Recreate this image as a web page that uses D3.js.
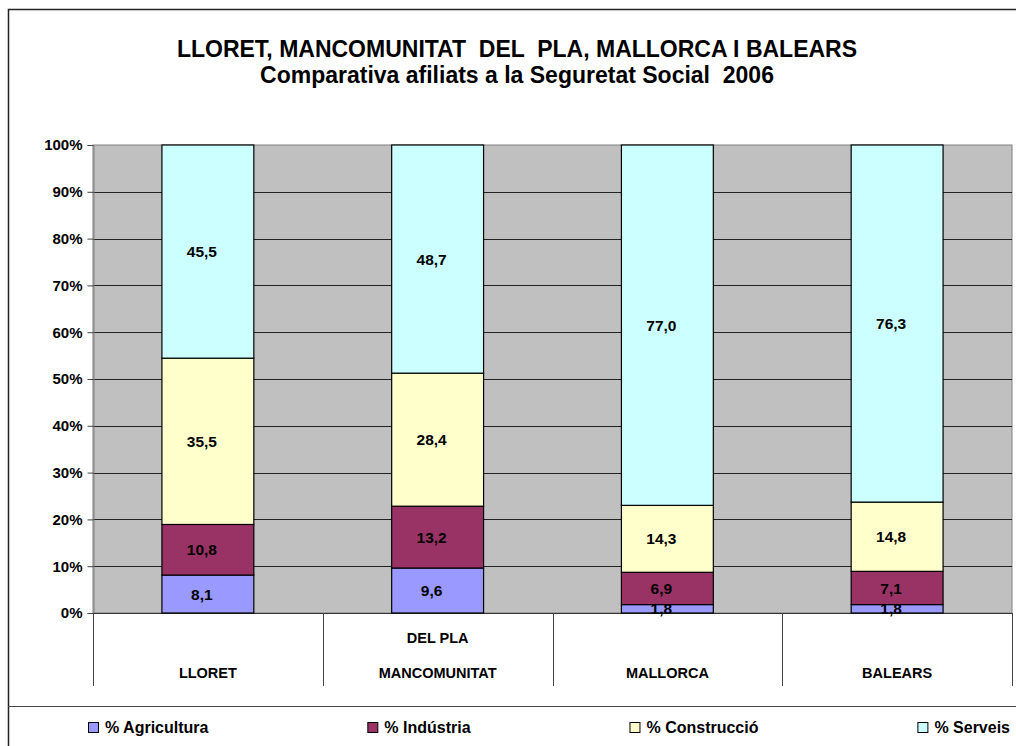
<!DOCTYPE html>
<html>
<head>
<meta charset="utf-8">
<script src="https://cdn.jsdelivr.net/npm/d3@7"></script>
<style>
  body { margin: 0; background: #fff; }
  svg { display: block; font-family: "Liberation Sans", Arial, sans-serif; font-weight: bold; }
</style>
</head>
<body>
<script>
// Data
var categories = ["LLORET", "MANCOMUNITAT DEL PLA", "MALLORCA", "BALEARS"];
// Excel wrapped the second label and printed its lines bottom-up
var categoryLines = [["LLORET"], ["DEL PLA", "MANCOMUNITAT"], ["MALLORCA"], ["BALEARS"]];
var seriesNames = ["% Agricultura", "% Indústria", "% Construcció", "% Serveis"];
var agricultura = [8.1, 9.6, 1.8, 1.8];
var industria = [10.8, 13.2, 6.9, 7.1];
var construccio = [35.5, 28.4, 14.3, 14.8];
var serveis = [45.5, 48.7, 77.0, 76.3];
var yTicks = [0, 10, 20, 30, 40, 50, 60, 70, 80, 90, 100];
var colors = ["#9999ff", "#993366", "#ffffcc", "#ccffff"];

var width = 1016,
    height = 746;

var rows = categories.map(function(c, i) {
  return {
    cat: c,
    "% Agricultura": agricultura[i],
    "% Indústria": industria[i],
    "% Construcció": construccio[i],
    "% Serveis": serveis[i]
  };
});

var svg = d3.select("body").append("svg")
    .attr("width", width)
    .attr("height", height);

// outer chart frame (runs off the right and bottom edges)
svg.append("rect")
    .attr("x", 8.5).attr("y", 9.5)
    .attr("width", 1030).attr("height", 760)
    .attr("fill", "#fff")
    .attr("stroke", "#222")
    .attr("stroke-width", 1.5);

// title
var title = svg.append("text")
    .attr("text-anchor", "middle")
    .style("font-size", "23px")
    .style("white-space", "pre");
title.append("tspan").attr("x", 517).attr("y", 57)
    .text("LLORET, MANCOMUNITAT  DEL  PLA, MALLORCA I BALEARS");
title.append("tspan").attr("x", 517).attr("y", 83)
    .text("Comparativa afiliats a la Seguretat Social  2006");

var plotLeft = 93, plotRight = 1012, plotTop = 145, plotBottom = 613;

var x = d3.scaleBand()
    .domain(categories)
    .range([plotLeft, plotRight])
    .paddingInner(0.6)
    .paddingOuter(0.3);

var y = d3.scaleLinear()
    .domain([0, 1])
    .range([plotBottom, plotTop]);

var stack = d3.stack()
    .keys(seriesNames)
    .offset(d3.stackOffsetExpand);

var stacked = stack(rows);

// plot background
svg.append("rect")
    .attr("x", plotLeft).attr("y", plotTop)
    .attr("width", plotRight - plotLeft)
    .attr("height", plotBottom - plotTop)
    .attr("fill", "#c0c0c0")
    .attr("stroke", "#808080")
    .attr("stroke-width", 1);

// gridlines
svg.append("g")
  .selectAll("line")
  .data(yTicks.filter(function(t) { return t > 0 && t < 100; }))
  .enter().append("line")
    .attr("x1", plotLeft).attr("x2", plotRight)
    .attr("y1", function(d) { return Math.round(y(d / 100)) + 0.5; })
    .attr("y2", function(d) { return Math.round(y(d / 100)) + 0.5; })
    .attr("stroke", "#222")
    .attr("stroke-width", 1);

// y axis
var yAxis = d3.axisLeft(y)
    .tickValues(yTicks.map(function(t) { return t / 100; }))
    .tickFormat(d3.format(".0%"))
    .tickSize(6)
    .tickPadding(5);

var gy = svg.append("g")
    .attr("transform", "translate(" + (plotLeft + 0.5) + ",0)")
    .call(yAxis);
gy.select(".domain").attr("stroke", "#808080");
gy.selectAll(".tick line").attr("stroke", "#444");
gy.selectAll(".tick text")
    .style("font-size", "15px")
    .style("font-weight", "bold")
    .style("font-family", "'Liberation Sans', Arial, sans-serif")
    .attr("fill", "#000");

// category area: baseline, dividers and labels
var step = x.step();
var bounds = d3.range(categories.length + 1).map(function(i) { return plotLeft + i * step; });

svg.append("line")
    .attr("x1", plotLeft).attr("x2", plotRight)
    .attr("y1", plotBottom + 0.5).attr("y2", plotBottom + 0.5)
    .attr("stroke", "#333");

svg.append("g")
  .selectAll("line")
  .data(bounds)
  .enter().append("line")
    .attr("x1", function(d) { return Math.round(d) + 0.5; })
    .attr("x2", function(d) { return Math.round(d) + 0.5; })
    .attr("y1", plotBottom).attr("y2", 686)
    .attr("stroke", "#444");

var catLabel = svg.append("g")
  .selectAll("text")
  .data(categories)
  .enter().append("text")
    .attr("text-anchor", "middle")
    .style("font-size", "14.5px");

catLabel.each(function(c, i) {
  var lines = categoryLines[i];
  var t = d3.select(this);
  lines.forEach(function(line, j) {
    t.append("tspan")
      .attr("x", x(c) + x.bandwidth() / 2)
      .attr("y", 678 - (lines.length - 1 - j) * 35)
      .text(line);
  });
});

// bars
var layer = svg.append("g")
  .selectAll("g")
  .data(stacked)
  .enter().append("g")
    .attr("fill", function(d, i) { return colors[i]; });

layer.selectAll("rect")
  .data(function(d) { return d; })
  .enter().append("rect")
    .attr("x", function(d) { return x(d.data.cat); })
    .attr("y", function(d) { return y(d[1]); })
    .attr("width", x.bandwidth())
    .attr("height", function(d) { return y(d[0]) - y(d[1]); })
    .attr("stroke", "#000")
    .attr("stroke-width", 1.2);

// value labels (Excel sits them a little left of the bar centre)
var fmt = function(v) { return d3.format(".1f")(v).replace(".", ","); };

svg.append("g")
  .selectAll("g")
  .data(stacked)
  .enter().append("g")
  .selectAll("text")
  .data(function(d) { var key = d.key; return d.map(function(p) { p.key = key; return p; }); })
  .enter().append("text")
    .attr("x", function(d) { return x(d.data.cat) + x.bandwidth() / 2 - 6; })
    .attr("y", function(d) { return (y(d[0]) + y(d[1])) / 2; })
    .attr("dy", "0.36em")
    .attr("text-anchor", "middle")
    .style("font-size", "15.5px")
    .text(function(d) { return fmt(d.data[d.key]); });

// legend
svg.append("line")
    .attr("x1", 8).attr("x2", width)
    .attr("y1", 706.5).attr("y2", 706.5)
    .attr("stroke", "#444");

var legend = svg.append("g");
var items = legend.selectAll("g")
  .data(seriesNames)
  .enter().append("g");

items.append("rect")
    .attr("width", 10).attr("height", 10)
    .attr("y", 722.5)
    .attr("fill", function(d, i) { return colors[i]; })
    .attr("stroke", "#000");

items.append("text")
    .attr("y", 733)
    .style("font-size", "16px")
    .text(function(d) { return d; });

// spread entries with equal gaps between 88 and 1010
var widths = [];
items.select("text").each(function() { widths.push(this.getComputedTextLength() + 17); });
var gap = (1010 - 88 - d3.sum(widths)) / (widths.length - 1);
var pos = 88;
items.each(function(d, i) {
  var g = d3.select(this);
  g.select("rect").attr("x", pos + 0.5);
  g.select("text").attr("x", pos + 17);
  pos += widths[i] + gap;
});
</script>
</body>
</html>
